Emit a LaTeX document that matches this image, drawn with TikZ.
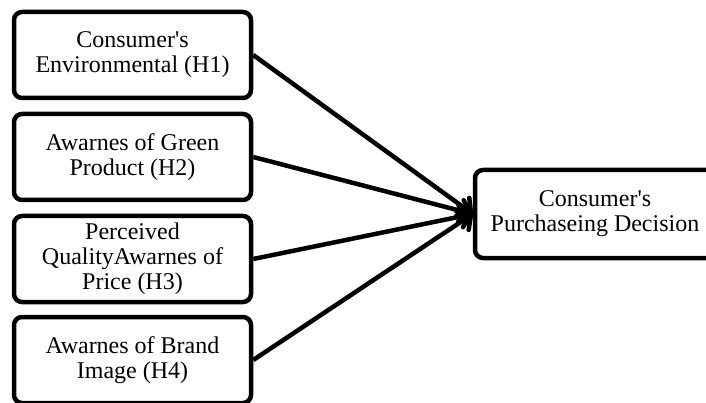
\documentclass[tikz,border=0pt]{standalone}
\usepackage{fontspec}
\setmainfont{Liberation Serif}
\usetikzlibrary{arrows.meta}
\begin{document}
\begin{tikzpicture}[x=1pt,y=-1pt,
  box/.style={draw=black, line width=4.5pt, rounded corners=8pt, fill=white,
    minimum width=237pt, minimum height=86pt, align=center,
    font=\fontsize{24}{25}\selectfont, inner sep=0pt},
  link/.style={line width=4.5pt, -{Straight Barb[length=10pt,width=22pt,line cap=round,line join=round]}}]
\clip (0,0) rectangle (706,403);
\fill[white] (0,0) rectangle (706,403);
\useasboundingbox (0,0) rectangle (706,403);
\node[box] (b1) at (132.5,55) {Consumer\textquotesingle s\\Environmental (H1)};
\node[box] (b2) at (132.5,157) {Awarnes of Green\\Product (H2)};
\node[box] (b3) at (132.5,259) {Perceived\\QualityAwarnes of\\Price (H3)};
\node[box] (b4) at (132.5,360) {Awarnes of Brand\\Image (H4)};
\node[box, minimum width=240pt, minimum height=88pt] (r) at (595,214) {Consumer\textquotesingle s\\Purchaseing Decision};
\draw[link] (b1.east) -- (r.west);
\draw[link] (b2.east) -- (r.west);
\draw[link] (b3.east) -- (r.west);
\draw[link] (b4.east) -- (r.west);
\end{tikzpicture}
\end{document}
